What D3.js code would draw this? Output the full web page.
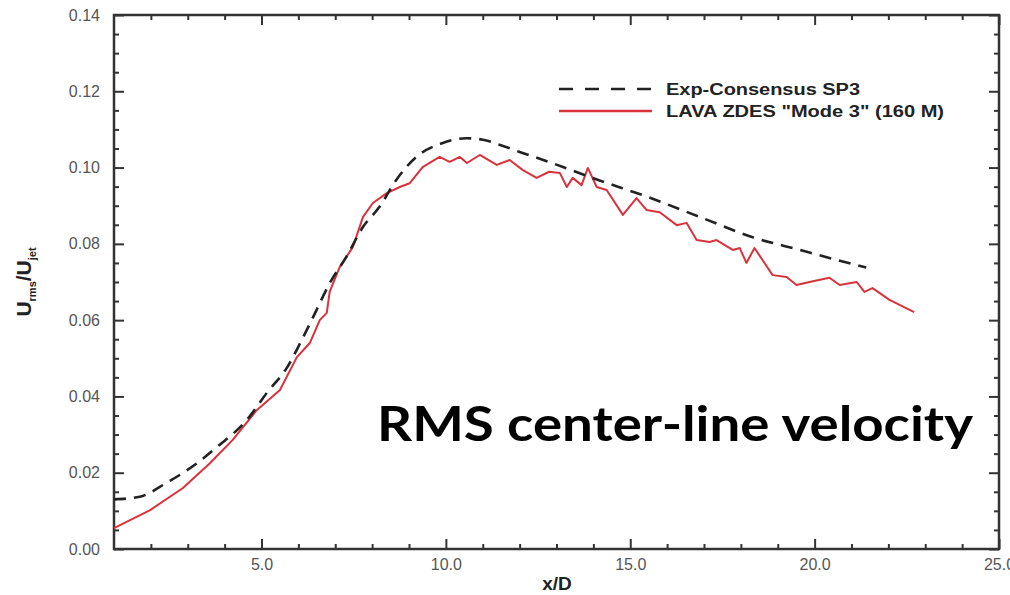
<!DOCTYPE html>
<html><head><meta charset="utf-8">
<script src="https://cdn.jsdelivr.net/npm/d3@7"></script>
<style>body{margin:0;background:#fff}svg{display:block}</style>
</head><body>
<script>
const expX = [1.0, 1.7, 2.4, 3.25, 3.8, 4.6, 5.15, 5.7, 6.05, 6.4, 6.85, 7.3, 7.75, 8.2, 8.65, 9.2, 9.9, 10.55, 11.0, 11.45, 12.0, 12.7, 14.15, 15.5, 16.9, 18.3, 19.6, 20.6, 21.4];
const expY = [0.0130, 0.0137, 0.0172, 0.0225, 0.0268, 0.0338, 0.0410, 0.0477, 0.0540, 0.0608, 0.0697, 0.0766, 0.0844, 0.0897, 0.0967, 0.1028, 0.1064, 0.1077, 0.1073, 0.1060, 0.1041, 0.1018, 0.0967, 0.0922, 0.0870, 0.0818, 0.0784, 0.0758, 0.0738];
const lavaX = [1.0, 1.98, 2.87, 3.6, 4.22, 4.87, 5.5, 5.96, 6.31, 6.58, 6.77, 6.85, 7.12, 7.48, 7.75, 8.02, 8.4, 8.75, 9.02, 9.37, 9.83, 10.1, 10.38, 10.57, 10.92, 11.38, 11.73, 12.08, 12.46, 12.8, 13.09, 13.28, 13.44, 13.68, 13.85, 14.09, 14.36, 14.8, 15.17, 15.44, 15.8, 16.26, 16.53, 16.8, 17.15, 17.34, 17.78, 17.97, 18.15, 18.37, 18.86, 19.24, 19.51, 19.86, 20.4, 20.68, 21.14, 21.35, 21.57, 22.03, 22.7];
const lavaY = [0.0055, 0.0102, 0.0160, 0.0225, 0.0286, 0.0364, 0.0417, 0.0503, 0.0540, 0.0600, 0.0619, 0.0675, 0.0739, 0.0792, 0.0870, 0.0907, 0.0933, 0.0949, 0.0959, 0.1001, 0.1028, 0.1015, 0.1028, 0.1012, 0.1033, 0.1007, 0.1020, 0.0994, 0.0973, 0.0989, 0.0986, 0.0949, 0.0973, 0.0954, 0.0999, 0.0949, 0.0941, 0.0876, 0.0920, 0.0889, 0.0883, 0.0849, 0.0855, 0.0810, 0.0805, 0.0810, 0.0784, 0.0789, 0.0750, 0.0789, 0.0718, 0.0713, 0.0692, 0.0700, 0.0711, 0.0692, 0.0700, 0.0674, 0.0684, 0.0653, 0.0621];
const xTicks = [5, 10, 15, 20, 25];
const yTicks = [0, 0.02, 0.04, 0.06, 0.08, 0.10, 0.12, 0.14];
const seriesNames = ["Exp-Consensus SP3", "LAVA ZDES \"Mode 3\" (160 M)"];

const W = 1010, H = 595;
const L = 114, R = 999, T = 15, B = 549;
const svg = d3.select("body").append("svg").attr("width", W).attr("height", H);
const x = d3.scaleLinear().domain([1, 25]).range([L, R]);
const y = d3.scaleLinear().domain([0, 0.14]).range([B, T]);

const axColor = "#333";
const minorX = d3.range(2, 25, 1).filter(v => v % 5 !== 0);
const minorY = d3.range(0.005, 0.14, 0.005).filter(v => Math.abs(v / 0.02 - Math.round(v / 0.02)) > 0.01);

function styleAxis(g) {
  g.select(".domain").remove();
  g.selectAll(".tick line").attr("stroke", axColor).attr("stroke-width", 2);
}
// bottom
const gB = svg.append("g").attr("transform", `translate(0,${B})`)
  .call(d3.axisBottom(x).tickValues(xTicks).tickSize(-10).tickPadding(10).tickFormat(d3.format(".1f")));
styleAxis(gB);
gB.selectAll("text").attr("fill", "#555").style("font-family", "Liberation Sans, Arial").style("font-size", "16px");
svg.append("g").attr("transform", `translate(0,${B})`).call(d3.axisBottom(x).tickValues(minorX).tickSize(-5).tickFormat("")).call(styleAxis);
// top
svg.append("g").attr("transform", `translate(0,${T})`).call(d3.axisTop(x).tickValues(xTicks).tickSize(-10).tickFormat("")).call(styleAxis);
svg.append("g").attr("transform", `translate(0,${T})`).call(d3.axisTop(x).tickValues(minorX).tickSize(-5).tickFormat("")).call(styleAxis);
// left
const gL = svg.append("g").attr("transform", `translate(${L},0)`)
  .call(d3.axisLeft(y).tickValues(yTicks).tickSize(-10).tickPadding(14).tickFormat(d3.format(".2f")));
styleAxis(gL);
gL.selectAll("text").attr("fill", "#555").style("font-family", "Liberation Sans, Arial").style("font-size", "16px");
svg.append("g").attr("transform", `translate(${L},0)`).call(d3.axisLeft(y).tickValues(minorY).tickSize(-5).tickFormat("")).call(styleAxis);
// right
svg.append("g").attr("transform", `translate(${R},0)`).call(d3.axisRight(y).tickValues(yTicks).tickSize(-10).tickFormat("")).call(styleAxis);
svg.append("g").attr("transform", `translate(${R},0)`).call(d3.axisRight(y).tickValues(minorY).tickSize(-5).tickFormat("")).call(styleAxis);
// frame
svg.append("rect").attr("x", L).attr("y", T).attr("width", R - L).attr("height", B - T)
  .attr("fill", "none").attr("stroke", axColor).attr("stroke-width", 2.5);

const line = d3.line().x(d => x(d[0])).y(d => y(d[1])).curve(d3.curveMonotoneX);
const expData = expX.map((v, i) => [v, expY[i]]);
const lavaData = lavaX.map((v, i) => [v, lavaY[i]]);
const lavaLine = d3.line().x(d => x(d[0])).y(d => y(d[1]));
svg.append("path").datum(lavaData).attr("d", lavaLine).attr("fill", "none").attr("stroke", "#d8333c").attr("stroke-width", 2).attr("stroke-linejoin", "round");
svg.append("path").datum(expData).attr("d", line).attr("fill", "none").attr("stroke", "#222").attr("stroke-width", 2.6).attr("stroke-dasharray", "12,8");

// legend
const lg = svg.append("g");
lg.append("line").attr("x1", 559).attr("x2", 652).attr("y1", 89).attr("y2", 89).attr("stroke", "#222").attr("stroke-width", 2.6).attr("stroke-dasharray", "14,12");
lg.append("line").attr("x1", 559).attr("x2", 652).attr("y1", 111).attr("y2", 111).attr("stroke", "#d8333c").attr("stroke-width", 2.4);
const legendLens = [194, 278];
lg.selectAll("text").data(seriesNames).enter().append("text")
  .attr("x", 666).attr("y", (d, i) => 95 + i * 22)
  .attr("textLength", (d, i) => legendLens[i]).attr("lengthAdjust", "spacingAndGlyphs")
  .attr("fill", "#222").style("font-family", "Liberation Sans, Arial").style("font-weight", "bold").style("font-size", "16px")
  .text(d => d);

// axis titles
svg.append("text").attr("x", 557).attr("y", 590).attr("text-anchor", "middle")
  .attr("fill", "#222").style("font-family", "Liberation Sans, Arial").style("font-weight", "bold").style("font-size", "19px").text("x/D");
const yl = svg.append("text").attr("transform", "translate(31,282) rotate(-90)").attr("text-anchor", "middle")
  .attr("fill", "#222").style("font-family", "Liberation Sans, Arial").style("font-weight", "bold").style("font-size", "21px");
yl.append("tspan").text("U");
yl.append("tspan").attr("dy", 5).style("font-size", "11px").text("rms");
yl.append("tspan").attr("dy", -5).text("/U");
yl.append("tspan").attr("dy", 5).style("font-size", "11px").text("jet");

// annotation
svg.append("text").attr("x", 377).attr("y", 441).attr("fill", "#000")
  .attr("textLength", 596).attr("lengthAdjust", "spacingAndGlyphs")
  .style("font-family", "Lato, Open Sans, sans-serif").style("font-weight", "bold").style("font-size", "48px")
  .text("RMS center-line velocity");
</script>
</body></html>
